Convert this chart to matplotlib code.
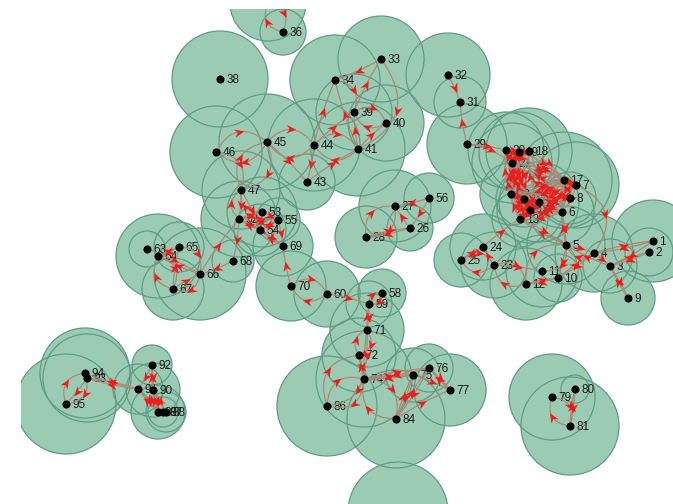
import numpy as np
import matplotlib
matplotlib.use("Agg")
from matplotlib import pyplot as plt
from matplotlib.markers import MarkerStyle
from matplotlib.patches import Circle, PathPatch
from matplotlib.path import Path
from matplotlib.transforms import Affine2D

plt.rcParams['font.family'] = ['Liberation Sans', 'DejaVu Sans']

# node id: (x, y, coverage radius)
nodes = {
    1: (653, 241, 41), 2: (649, 252, 24), 3: (610, 266, 27), 4: (594, 253, 39),
    5: (566, 245, 39), 6: (562, 212, 32), 7: (576, 185, 43), 8: (570, 198, 26),
    9: (628, 298, 27), 10: (558, 278, 24), 11: (542, 271, 36), 12: (526, 284, 36),
    13: (520, 219, 28), 14: (530, 210, 33), 15: (539, 202, 40), 16: (524, 199, 28),
    17: (564, 180, 48), 18: (529, 151, 43), 19: (519, 152, 40), 20: (506, 150, 38),
    21: (512, 163, 40), 22: (511, 194, 31), 23: (494, 265, 33), 24: (483, 247, 33),
    25: (461, 260, 27), 26: (410, 228, 23), 27: (395, 206, 36), 28: (366, 237, 31),
    29: (467, 144, 40), 31: (460, 102, 26), 32: (448, 75, 42), 33: (381, 59, 43),
    34: (335, 80, 45), 35: (268, 3, 38), 36: (283, 32, 23), 38: (220, 79, 48),
    39: (354, 112, 38), 40: (386, 123, 38), 41: (358, 149, 47), 43: (307, 182, 28),
    44: (314, 145, 46), 45: (267, 142, 48), 46: (216, 152, 46), 47: (241, 190, 39),
    52: (239, 219, 38), 53: (262, 212, 35), 54: (260, 230, 26), 55: (278, 220, 22),
    56: (429, 198, 25), 58: (382, 293, 24), 59: (369, 304, 23), 60: (327, 294, 33),
    63: (147, 249, 18), 64: (158, 256, 42), 65: (179, 247, 25), 66: (200, 274, 46),
    67: (173, 289, 31), 68: (233, 261, 21), 69: (283, 246, 30), 70: (291, 286, 35),
    71: (367, 330, 37), 72: (359, 355, 37), 74: (364, 379, 48), 75: (413, 375, 27),
    76: (429, 368, 24), 77: (450, 390, 36), 79: (552, 397, 43), 80: (575, 389, 14),
    81: (570, 426, 49), 84: (396, 419, 49), 85: (398, 512, 50), 86: (327, 406, 50),
    87: (163, 412, 15), 88: (166, 412, 20), 89: (158, 412, 27), 90: (153, 390, 27),
    91: (138, 389, 25), 92: (152, 365, 20), 93: (87, 378, 44), 94: (85, 373, 45),
    95: (66, 404, 50),
}

# directed links, nearly straight
links_flat = [
    (1, 4), (4, 1), (1, 3), (2, 3), (3, 2), (3, 9), (9, 3), (4, 3), (3, 5), (5, 4),
    (4, 10), (10, 4), (5, 10), (23, 11), (12, 10), (10, 12), (23, 24),
    (24, 25), (25, 24), (24, 13), (5, 6), (6, 5), (5, 13), (13, 5), (29, 31), (32, 31),
    (29, 20), (33, 34), (39, 33), (41, 34), (44, 34), (41, 39), (41, 40), (44, 39),
    (44, 43), (43, 41), (45, 43), (47, 52), (47, 54),
    (52, 53), (53, 52), (52, 54), (54, 52), (52, 55), (53, 54), (54, 53),
    (54, 55), (55, 54), (53, 55), (54, 69), (69, 54), (55, 69),
    (52, 69), (70, 69), (66, 52), (52, 68), (68, 66), (63, 66),
    (64, 65), (65, 64), (66, 64), (67, 66), (67, 65), (56, 26), (26, 27), (56, 27),
    (26, 28), (28, 26), (60, 59), (59, 71), (71, 59), (71, 74), (74, 71), (72, 74),
    (74, 72), (74, 75), (75, 74), (74, 76), (76, 74), (75, 84), (84, 75), (76, 84),
    (84, 76), (75, 77), (76, 77), (77, 76), (84, 77), (80, 81),
    (81, 80), (93, 95), (91, 93), (93, 91), (91, 94), (92, 91),
    (92, 90), (90, 92), (91, 89), (89, 91), (90, 88), (88, 90), (90, 89), (89, 90),
    (91, 87), (87, 91),
]

# directed links with a clear bow
links_bent = [
    (4, 5), (5, 11), (12, 23), (23, 12), (25, 23), (23, 25),
    (12, 5), (7, 4), (46, 45), (45, 46), (45, 44), (44, 45), (46, 47),
    (47, 45), (45, 47), (52, 47), (53, 47), (60, 70), (70, 60), (64, 67),
    (67, 64), (66, 67), (65, 66), (40, 39), (39, 40), (34, 39), (33, 41), (44, 41), (41, 44),
    (58, 59), (59, 58), (71, 72), (72, 71),
    (72, 86), (86, 72), (74, 86), (86, 74), (74, 84), (84, 74), (79, 81), (81, 79),
    (94, 95), (95, 94), (36, 35), (35, 36), (27, 28), (28, 27),
]

# the dense knot on the right
links_knot = [
    (13, 14), (14, 13), (13, 16), (16, 13), (13, 22), (22, 13), (13, 15), (15, 13),
    (14, 15), (15, 14), (14, 16), (16, 14), (14, 22), (22, 14), (14, 21), (21, 14),
    (15, 16), (16, 15), (15, 17), (17, 15), (15, 7), (7, 15), (15, 8), (8, 15),
    (15, 6), (6, 15), (16, 22), (22, 16), (16, 21), (21, 16), (16, 17), (17, 16),
    (16, 7), (7, 16), (22, 21), (21, 22), (22, 20), (20, 22), (22, 19), (19, 22),
    (22, 18), (18, 22), (22, 17), (17, 22), (22, 7), (7, 22), (21, 20), (20, 21),
    (21, 19), (19, 21), (21, 18), (18, 21), (21, 7), (7, 21), (20, 19), (19, 20),
    (19, 18), (18, 19), (20, 16), (16, 20), (19, 16), (16, 19), (18, 15), (15, 18),
    (6, 17), (17, 6), (6, 7), (7, 6), (6, 14), (14, 6), (8, 14), (14, 8), (8, 17),
    (17, 8), (13, 6), (6, 13), (17, 7), (7, 17), (19, 17), (17, 19), (20, 13), (13, 20),
    (17, 18), (18, 17), (7, 20), (21, 17), (29, 21),
]

fill_col = "#9ccbb3"
ring_col = "#5f9c84"
line_col = "#a98a78"
head_col = "#ee1c1c"

head_path = Path([(1, 0), (-1, 0.85), (-0.35, 0), (-1, -0.85), (1, 0)],
                 [Path.MOVETO, Path.LINETO, Path.LINETO, Path.LINETO, Path.CLOSEPOLY])


def draw_link(ax, a, b, rad):
    xa, ya = nodes[a][:2]
    xb, yb = nodes[b][:2]
    ctrl = ((xa + xb) / 2 + rad * (yb - ya), (ya + yb) / 2 - rad * (xb - xa))
    ax.add_patch(PathPatch(Path([(xa, ya), ctrl, (xb, yb)], [Path.MOVETO, Path.CURVE3, Path.CURVE3]),
                           fc="none", ec=line_col, lw=0.9, zorder=4))
    mx = 0.25 * xa + 0.5 * ctrl[0] + 0.25 * xb
    my = 0.25 * ya + 0.5 * ctrl[1] + 0.25 * yb
    angle = np.degrees(np.arctan2(-(yb - ya), xb - xa))
    mark = MarkerStyle(head_path, transform=Affine2D().rotate_deg(angle))
    ax.plot(mx, my, marker=mark, ms=7, color=head_col, mew=0, zorder=5)


fig = plt.figure(figsize=(6.73, 5.04), dpi=100)
ax = fig.add_axes([21 / 673, 0, 652 / 673, 495 / 504])
ax.set_xlim(21, 673)
ax.set_ylim(504, 9)
ax.axis("off")

for x, y, r in nodes.values():
    ax.add_patch(Circle((x, y), r, fc=fill_col, ec="none", zorder=1))
for x, y, r in nodes.values():
    ax.add_patch(Circle((x, y), r, fc="none", ec=ring_col, lw=0.9, zorder=2))

for n, (x, y, r) in nodes.items():
    ax.text(x + 6.5, y + 0.5, str(n), fontsize=8.5, color="#1a1a1a", va="center", ha="left",
            zorder=3, clip_on=True)

for a, b in links_flat:
    draw_link(ax, a, b, 0.05)
for a, b in links_bent:
    draw_link(ax, a, b, 0.6)
for a, b in links_knot:
    draw_link(ax, a, b, 0.14)

xs = [v[0] for v in nodes.values()]
ys = [v[1] for v in nodes.values()]
ax.scatter(xs, ys, s=34, c="black", linewidths=0, zorder=6)

fig.savefig("out.png", dpi=100)
